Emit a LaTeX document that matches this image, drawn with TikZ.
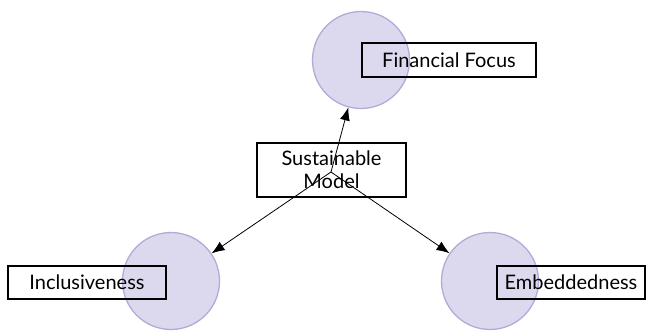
\documentclass[tikz,border=0pt]{standalone}
\usepackage{fontspec}
\setmainfont{Lato}
\usetikzlibrary{arrows.meta}
\definecolor{cfill}{RGB}{220,216,238}
\definecolor{cline}{RGB}{180,170,215}
\begin{document}
\begin{tikzpicture}[x=1pt,y=-1pt,
  blob/.style={circle,fill=cfill,draw=cline,line width=1.3pt,minimum size=97pt,inner sep=0pt},
  lbl/.style={draw=black,line width=1.6pt,inner sep=0pt,align=center,font=\fontsize{20}{23}\selectfont},
  link/.style={line width=0.8pt,-{Latex[length=13pt,width=10pt]}}]
\useasboundingbox (0,0) rectangle (648,332);
\node[blob] (cf) at (361,60) {};
\node[blob] (ci) at (171,281) {};
\node[blob] (ce) at (490,281) {};
\node[lbl,minimum width=174pt,minimum height=34pt] (ff) at (449,60) {Financial Focus};
\node[lbl,minimum width=149pt,minimum height=54pt] (sm) at (331.5,170) {Sustainable\\Model};
\node[lbl,minimum width=158pt,minimum height=33pt] (inc) at (87,282.5) {Inclusiveness};
\node[lbl,minimum width=148pt,minimum height=33pt] (emb) at (571,282.5) {Embeddedness};
\coordinate (o) at (331,172);
\draw[link] (o) -- (cf);
\draw[link] (o) -- (ci);
\draw[link] (o) -- (ce);
\end{tikzpicture}
\end{document}
